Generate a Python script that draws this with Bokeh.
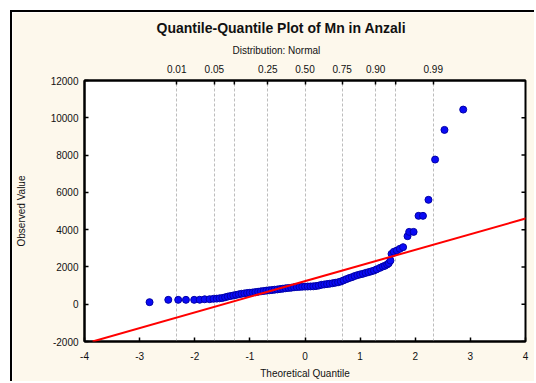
from statistics import NormalDist

from bokeh.plotting import figure
from bokeh.models import (LinearAxis, FixedTicker, CustomJSTickFormatter, Title,
                          Slope, Grid, ColumnDataSource)
from bokeh.embed import file_html
from bokeh.resources import INLINE

# ---------------- data ----------------
theoretical_quantile = [
    -2.82, -2.48, -2.30, -2.16, -2.01, -1.91, -1.82, -1.73, -1.66, -1.60,
    -1.55, -1.50, -1.45, -1.40, -1.35, -1.30, -1.25, -1.20, -1.15, -1.10,
    -1.05, -1.00, -0.95, -0.90, -0.85, -0.80, -0.75, -0.70, -0.65, -0.60,
    -0.55, -0.50, -0.45, -0.40, -0.35, -0.30, -0.25, -0.20, -0.15, -0.10,
    -0.05, 0.00, 0.05, 0.10, 0.15, 0.20, 0.25, 0.30, 0.35, 0.40,
    0.45, 0.50, 0.55, 0.60, 0.65, 0.70, 0.75, 0.80, 0.85, 0.90,
    0.95, 1.00, 1.05, 1.10, 1.15, 1.20, 1.25, 1.30, 1.36, 1.41,
    1.45, 1.49, 1.52, 1.55, 1.57, 1.61, 1.665, 1.72, 1.78, 1.86,
    1.89, 1.97, 2.06, 2.14, 2.24, 2.36, 2.53, 2.87,
]
observed_value = [
    110, 235, 235, 235, 235, 240, 265, 270, 290, 300,
    315, 335, 370, 410, 440, 470, 500, 530, 560, 580,
    600, 615, 630, 650, 670, 690, 710, 730, 745, 760,
    780, 795, 815, 835, 855, 870, 885, 905, 920, 930,
    940, 945, 950, 955, 960, 975, 1000, 1040, 1060, 1080,
    1100, 1125, 1150, 1175, 1220, 1280, 1345, 1400, 1450, 1510,
    1560, 1600, 1630, 1680, 1720, 1760, 1805, 1870, 1950, 2020,
    2060, 2130, 2200, 2340, 2700, 2810, 2880, 2970, 3060, 3650,
    3880, 3880, 4740, 4740, 5600, 7760, 9350, 10440,
]
fit_mean = 1237          # intercept of the reference line
fit_sd = 840             # slope of the reference line

prob_levels = [0.01, 0.05, 0.10, 0.25, 0.50, 0.75, 0.90, 0.95, 0.99]
prob_labels = ["0.01", "0.05", "", "0.25", "0.50", "0.75", "0.90", "", "0.99"]
x_ticks = [-4, -3, -2, -1, 0, 1, 2, 3, 4]
y_ticks = [-2000, 0, 2000, 4000, 6000, 8000, 10000, 12000]

title_text = "Quantile-Quantile Plot of Mn in Anzali"
subtitle_text = "Distribution: Normal"
x_title = "Theoretical Quantile"
y_title = "Observed Value"

# positions of the probability scale on the theoretical-quantile axis
prob_z = [NormalDist().inv_cdf(pp) for pp in prob_levels]
labeled_z = [z for z, lab in zip(prob_z, prob_labels) if lab]
unlabeled_z = [z for z, lab in zip(prob_z, prob_labels) if not lab]

# ---------------- styling ----------------
FONT = "Liberation Sans"
CREAM = "#FDF8EC"
TXT = "#111111"

p = figure(width=524, height=371, x_range=(-4, 4), y_range=(-2000, 12000),
           output_backend="svg", toolbar_location=None, title=None,
           x_axis_type=None, y_axis_type=None,
           min_border_left=71, min_border_right=11, min_border_top=68,
           min_border_bottom=42, background_fill_color="white",
           border_fill_color=CREAM, outline_line_color="black",
           outline_line_width=2, outline_line_alpha=1)
p.styles = {"margin-left": "10px", "margin-top": "10px",
            "border-left": "2px solid black", "border-top": "2px solid black"}

# plain hyphen-minus number labels, as in the reference
plain_fmt = CustomJSTickFormatter(code="return tick.toFixed(0);")


def make_axis(ticks, **kw):
    base = dict(ticker=FixedTicker(ticks=ticks, minor_ticks=[]),
                axis_line_width=2, axis_line_color="black",
                major_tick_in=4, major_tick_out=0, minor_tick_in=0, minor_tick_out=0,
                major_tick_line_width=1.5, major_tick_line_color="black",
                major_label_text_font=FONT, major_label_text_font_size="10px",
                major_label_text_color=TXT,
                axis_label_text_font=FONT, axis_label_text_font_size="10px",
                axis_label_text_font_style="normal", axis_label_text_color=TXT)
    base.update(kw)
    return LinearAxis(**base)


# dashed probability grid
p.add_layout(Grid(dimension=0, ticker=FixedTicker(ticks=prob_z, minor_ticks=[]),
                  grid_line_color="#BDBDBD", grid_line_dash="3 2", grid_line_width=1))

p.add_layout(make_axis(x_ticks, axis_label=x_title, formatter=plain_fmt,
                       major_label_standoff=10, axis_label_standoff=5), "below")
p.add_layout(make_axis(y_ticks, axis_label=y_title, formatter=plain_fmt,
                       major_label_standoff=6, axis_label_standoff=21), "left")
top_fmt = CustomJSTickFormatter(args=dict(z=labeled_z,
                                          labs=[l for l in prob_labels if l]), code="""
    let best = 0, bd = 1e9;
    for (let i = 0; i < z.length; i++) {
        const d = Math.abs(z[i] - tick);
        if (d < bd) { bd = d; best = i; }
    }
    return labs[best];
""")
p.add_layout(make_axis(labeled_z, formatter=top_fmt, major_label_standoff=8), "above")

# titles (subtitle first so it sits next to the probability axis)
p.add_layout(Title(text=subtitle_text, align="left", offset=148, standoff=12,
                   text_font=FONT, text_font_size="10px", text_font_style="normal",
                   text_color=TXT), "above")
p.add_layout(Title(text=title_text, align="left", offset=72, standoff=2,
                   text_font=FONT, text_font_size="14px", text_font_style="bold",
                   text_color=TXT), "above")

# short inner tick marks (half of each dash is clipped by the frame):
# unlabeled probability ticks on top, value ticks on the right
n_unl = len(unlabeled_z)
p.scatter(unlabeled_z, [y_ticks[-1]] * n_unl, marker="dash", size=8, angle=1.5708,
          line_color="black", line_width=1.5)
p.scatter([x_ticks[-1]] * len(y_ticks), y_ticks, marker="dash", size=8,
          line_color="black", line_width=1.5)

# data points
src = ColumnDataSource(dict(x=theoretical_quantile, y=observed_value))
p.scatter("x", "y", source=src, marker="circle", size=7,
          fill_color="#0A0AF5", line_color="#0000A8", line_width=1)

# reference (normal fit) line
p.add_layout(Slope(gradient=fit_sd, y_intercept=fit_mean,
                   line_color="#FF0000", line_width=2))

open("out.html", "w").write(file_html(p, INLINE))
